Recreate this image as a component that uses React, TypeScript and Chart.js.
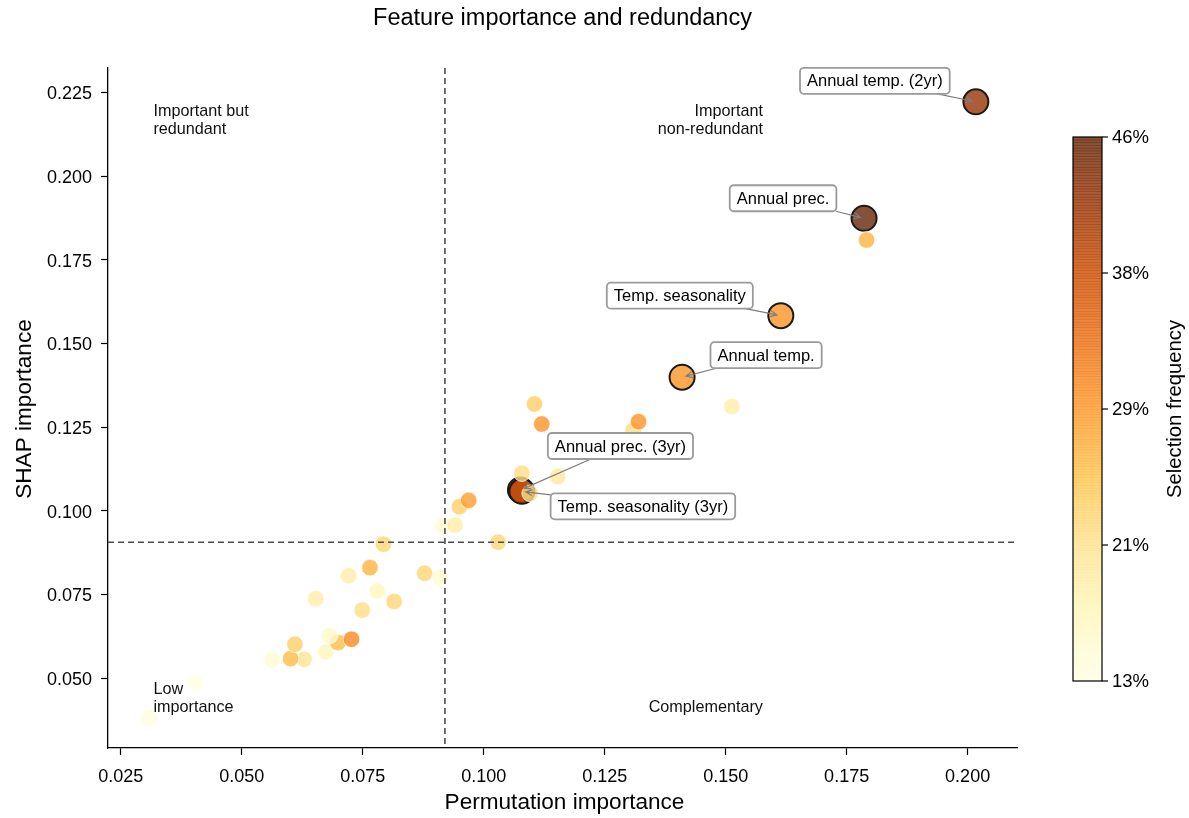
import React, { useEffect, useRef } from 'react';
import { Chart, registerables } from 'chart.js';

Chart.register(...registerables);

// ---------- data ----------
const PERM_X = [0.0309, 0.0406, 0.0563, 0.0629, 0.0601, 0.0610, 0.0653, 0.0674, 0.0699, 0.0682, 0.0727, 0.0721, 0.0749, 0.0765, 0.0780, 0.0793, 0.0815, 0.0878, 0.0910, 0.0915, 0.0941, 0.0950, 0.0969, 0.1030, 0.1105, 0.1120, 0.1309, 0.1320, 0.1513, 0.1079, 0.1153, 0.1096, 0.1791];
const SHAP_Y = [0.0381, 0.0487, 0.0554, 0.0556, 0.0558, 0.0601, 0.0737, 0.0578, 0.0606, 0.0627, 0.0616, 0.0806, 0.0703, 0.0830, 0.0760, 0.0900, 0.0729, 0.0813, 0.0801, 0.0955, 0.0957, 0.1012, 0.1031, 0.0906, 0.1319, 0.1259, 0.1241, 0.1266, 0.1311, 0.1112, 0.1102, 0.1052, 0.1809];
const FREQ = [14, 13, 15, 21, 26, 24, 19, 17, 26, 16, 31, 19, 22, 27, 17, 23, 23, 23, 15, 15, 19, 24, 29, 23, 24, 30, 22, 30, 19, 22, 20, 22, 27];

const HL_NAMES = ['Annual temp. (2yr)', 'Annual prec.', 'Temp. seasonality', 'Annual temp.', 'Annual prec. (3yr)', 'Temp. seasonality (3yr)'];
const HL_X = [0.2017, 0.1786, 0.1614, 0.1410, 0.1076, 0.1079];
const HL_Y = [0.2222, 0.1874, 0.1583, 0.1399, 0.1062, 0.1058];
const HL_FREQ = [42, 46, 30, 30, 38, 39];

const X_TICKS = [0.025, 0.05, 0.075, 0.1, 0.125, 0.15, 0.175, 0.2];
const Y_TICKS = [0.05, 0.075, 0.1, 0.125, 0.15, 0.175, 0.2, 0.225];
const CBAR_TICKS = [13, 21.25, 29.5, 37.75, 46];
const CBAR_LABELS = ['13%', '21%', '29%', '38%', '46%'];
const FREQ_MIN = 13;
const FREQ_MAX = 46;
const X_THRESHOLD = 0.092;
const Y_THRESHOLD = 0.0906;

const QUADRANT_LABELS = [
  ['Important but', 'redundant'],
  ['Important', 'non-redundant'],
  ['Low', 'importance'],
  ['Complementary'],
];

// ---------- styling ----------
const FONT = '"Liberation Sans", Arial, Helvetica, sans-serif';
const LABEL_OFFSETS: number[][] = [[-101, -21], [-81, -20], [-101, -20], [84, -22], [100, -44], [121, 15]];

const YLORBR = ['#ffffe5', '#fff7bc', '#fee391', '#fec44f', '#fe9929', '#ec7014', '#cc4c02', '#993404', '#662506'];

function hexToRgb(h: string) {
  return [parseInt(h.slice(1, 3), 16), parseInt(h.slice(3, 5), 16), parseInt(h.slice(5, 7), 16)];
}

function cmap(t: number, alpha: number) {
  t = Math.max(0, Math.min(1, t));
  const n = YLORBR.length - 1;
  const p = t * n;
  const i = Math.min(n - 1, Math.floor(p));
  const f = p - i;
  const a = hexToRgb(YLORBR[i]);
  const b = hexToRgb(YLORBR[i + 1]);
  const c = a.map((v, k) => Math.round(v + (b[k] - v) * f));
  return `rgba(${c[0]},${c[1]},${c[2]},${alpha})`;
}

function colorFor(f: number) {
  return cmap((f - FREQ_MIN) / (FREQ_MAX - FREQ_MIN), 0.8);
}

const overlayPlugin = {
  id: 'overlay',
  afterDraw(chart: any) {
    const ctx = chart.ctx as CanvasRenderingContext2D;
    const ca = chart.chartArea;
    const xs = chart.scales.x;
    const ys = chart.scales.y;
    const W = ca.right - ca.left;
    ctx.save();

    // threshold lines
    ctx.strokeStyle = '#4d4d4d';
    ctx.lineWidth = 1.6;
    ctx.setLineDash([6, 4]);
    const tx = xs.getPixelForValue(X_THRESHOLD);
    const ty = ys.getPixelForValue(Y_THRESHOLD);
    ctx.beginPath();
    ctx.moveTo(tx, ca.top);
    ctx.lineTo(tx, ca.bottom);
    ctx.moveTo(ca.left, ty);
    ctx.lineTo(ca.right, ty);
    ctx.stroke();
    ctx.setLineDash([]);

    // quadrant labels
    ctx.fillStyle = '#111';
    ctx.font = `16.2px ${FONT}`;
    ctx.textBaseline = 'alphabetic';
    const lx = ca.left + 0.05 * W;
    const rx = ca.left + 0.7205 * W;
    const lh = 17.5;
    const drawLines = (lines: string[], x: number, yBase: number, align: CanvasTextAlign) => {
      ctx.textAlign = align;
      lines.forEach((s, k) => ctx.fillText(s, x, yBase + k * lh));
    };
    drawLines(QUADRANT_LABELS[0], lx, ca.top + 48, 'left');
    drawLines(QUADRANT_LABELS[1], rx, ca.top + 48, 'right');
    drawLines(QUADRANT_LABELS[2], lx, ca.bottom - 54, 'left');
    drawLines(QUADRANT_LABELS[3], rx, ca.bottom - 36.5, 'right');

    // annotations
    ctx.font = `16.5px ${FONT}`;
    HL_NAMES.forEach((name, i) => {
      const px = xs.getPixelForValue(HL_X[i]);
      const py = ys.getPixelForValue(HL_Y[i]);
      const cx = px + LABEL_OFFSETS[i][0];
      const cy = py + LABEL_OFFSETS[i][1];
      const tw = ctx.measureText(name).width;
      const bw = tw + 14;
      const bh = 26;
      const dx = px - cx;
      const dy = py - cy;
      const t = Math.min(Math.abs(dx) > 0 ? (bw / 2) / Math.abs(dx) : 1e9, Math.abs(dy) > 0 ? (bh / 2) / Math.abs(dy) : 1e9);
      const sx = cx + dx * t;
      const sy = cy + dy * t;
      const len = Math.hypot(dx, dy);
      const ex = px - (dx / len) * 4;
      const ey = py - (dy / len) * 4;
      ctx.strokeStyle = '#7f7f7f';
      ctx.lineWidth = 1.2;
      ctx.beginPath();
      ctx.moveTo(sx, sy);
      ctx.lineTo(ex, ey);
      const ang = Math.atan2(ey - sy, ex - sx);
      const ah = 7;
      ctx.moveTo(ex - ah * Math.cos(ang - 0.45), ey - ah * Math.sin(ang - 0.45));
      ctx.lineTo(ex, ey);
      ctx.lineTo(ex - ah * Math.cos(ang + 0.45), ey - ah * Math.sin(ang + 0.45));
      ctx.stroke();

      ctx.beginPath();
      (ctx as any).roundRect(cx - bw / 2, cy - bh / 2, bw, bh, 4);
      ctx.fillStyle = 'rgba(255,255,255,0.92)';
      ctx.fill();
      ctx.strokeStyle = '#9a9a9a';
      ctx.lineWidth = 1.8;
      ctx.stroke();
      ctx.fillStyle = '#000';
      ctx.textAlign = 'center';
      ctx.textBaseline = 'middle';
      ctx.fillText(name, cx, cy + 1);
    });

    // title
    ctx.fillStyle = '#000';
    ctx.textAlign = 'center';
    ctx.textBaseline = 'alphabetic';
    ctx.font = `23.5px ${FONT}`;
    ctx.fillText('Feature importance and redundancy', (ca.left + ca.right) / 2, 25);

    // axis titles
    ctx.font = `22.6px ${FONT}`;
    ctx.fillText('Permutation importance', (ca.left + ca.right) / 2 + 2, 809);
    ctx.save();
    ctx.translate(31, (ca.top + ca.bottom) / 2 + 1);
    ctx.rotate(-Math.PI / 2);
    ctx.fillText('SHAP importance', 0, 0);
    ctx.restore();

    // colorbar
    const cbL = 1073, cbR = 1102, cbT = 137, cbB = 681;
    const steps = 200;
    for (let k = 0; k < steps; k++) {
      const y0 = cbB - (k / steps) * (cbB - cbT);
      const y1 = cbB - ((k + 1) / steps) * (cbB - cbT);
      ctx.fillStyle = cmap((k + 0.5) / steps, 0.8);
      ctx.fillRect(cbL, y1, cbR - cbL, y0 - y1 + 0.6);
    }
    ctx.strokeStyle = '#000';
    ctx.lineWidth = 1.2;
    ctx.strokeRect(cbL, cbT, cbR - cbL, cbB - cbT);
    ctx.font = `18.5px ${FONT}`;
    ctx.textAlign = 'left';
    ctx.textBaseline = 'middle';
    ctx.fillStyle = '#000';
    CBAR_TICKS.forEach((v, k) => {
      const yy = cbB - ((v - FREQ_MIN) / (FREQ_MAX - FREQ_MIN)) * (cbB - cbT);
      ctx.beginPath();
      ctx.moveTo(cbR, yy);
      ctx.lineTo(cbR + 6, yy);
      ctx.stroke();
      ctx.fillText(CBAR_LABELS[k], cbR + 10, yy + 1);
    });
    ctx.save();
    ctx.font = `20.3px ${FONT}`;
    ctx.textAlign = 'center';
    ctx.textBaseline = 'alphabetic';
    ctx.translate(1181, (cbT + cbB) / 2);
    ctx.rotate(-Math.PI / 2);
    ctx.fillText('Selection frequency', 0, 0);
    ctx.restore();

    ctx.restore();
  },
};

export default function App() {
  const ref = useRef<HTMLCanvasElement | null>(null);

  useEffect(() => {
    if (!ref.current) return;
    Chart.defaults.font.family = FONT;
    const tickFont = { family: FONT, size: 18 };
    const chart = new Chart(ref.current, {
      type: 'scatter',
      data: {
        datasets: [
          {
            label: 'features',
            data: PERM_X.map((x, i) => ({ x, y: SHAP_Y[i] })),
            backgroundColor: FREQ.map(colorFor),
            borderColor: 'rgba(255,255,255,0.9)',
            borderWidth: 0.8,
            pointRadius: 8.3,
            order: 0,
          },
          {
            label: 'highlighted',
            data: HL_X.map((x, i) => ({ x, y: HL_Y[i] })),
            backgroundColor: HL_FREQ.map(colorFor),
            borderColor: '#1a1a1a',
            borderWidth: 2,
            pointRadius: 12.5,
            order: 1,
          },
        ],
      },
      options: {
        animation: false,
        responsive: false,
        events: [],
        layout: { padding: { top: 68, right: 172, left: 0, bottom: 0 } },
        plugins: { legend: { display: false }, tooltip: { enabled: false }, title: { display: false } },
        scales: {
          x: {
            type: 'linear',
            min: 0.02238,
            max: 0.2102,
            afterBuildTicks: (s: any) => { s.ticks = X_TICKS.map((v) => ({ value: v })); },
            afterFit: (s: any) => { s.height = 70; },
            grid: { display: true, drawOnChartArea: false, drawTicks: true, tickLength: 7, tickWidth: 1.2, tickColor: '#000', color: '#000' },
            border: { display: true, color: '#000', width: 1.3 },
            ticks: { color: '#000', font: tickFont, padding: 11, maxRotation: 0, autoSkip: false, callback: (v: any) => Number(v).toFixed(3) },
          },
          y: {
            type: 'linear',
            min: 0.0291,
            max: 0.2323,
            afterBuildTicks: (s: any) => { s.ticks = Y_TICKS.map((v) => ({ value: v })); },
            afterFit: (s: any) => { s.width = 108; },
            grid: { display: true, drawOnChartArea: false, drawTicks: true, tickLength: 7, tickWidth: 1.2, tickColor: '#000', color: '#000' },
            border: { display: true, color: '#000', width: 1.3 },
            ticks: { color: '#000', font: tickFont, padding: 9, labelOffset: 2, autoSkip: false, callback: (v: any) => Number(v).toFixed(3) },
          },
        },
      },
      plugins: [overlayPlugin],
    } as any);
    return () => chart.destroy();
  }, []);

  return (
    <div style={{ position: 'fixed', left: 0, top: 0, width: 1189, height: 818, background: '#fff' }}>
      <canvas ref={ref} width={1189} height={818} style={{ display: 'block', width: 1189, height: 818 }} />
    </div>
  );
}
